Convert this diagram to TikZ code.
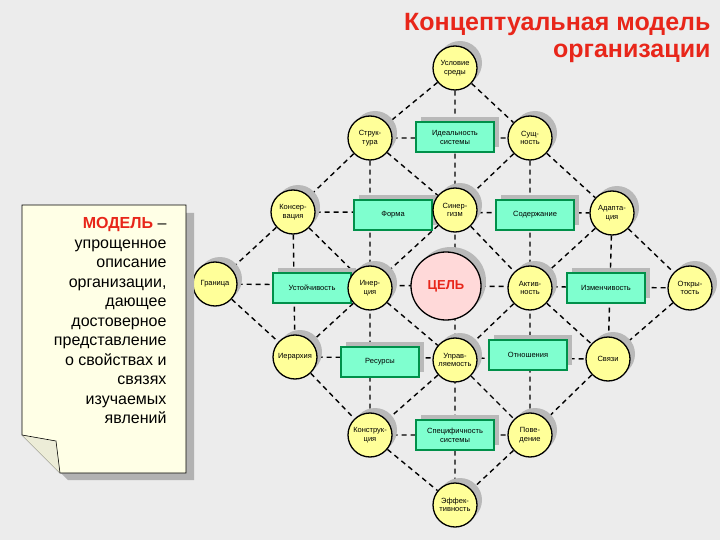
\documentclass[tikz,border=0pt]{standalone}
\usepackage{fontspec}
\setmainfont{Liberation Sans}
\usetikzlibrary{shadows,backgrounds,shapes.geometric}
\definecolor{bg}{HTML}{ECECEC}
\definecolor{cy}{HTML}{FFFF99}
\definecolor{mint}{HTML}{7FFFCF}
\definecolor{dg}{HTML}{00904A}
\definecolor{tr}{HTML}{E8261A}
\definecolor{note}{HTML}{FFFFE6}
\begin{document}
\begin{tikzpicture}[x=1pt,y=-1pt,
 sh/.style={drop shadow={shadow xshift=5pt,shadow yshift=5pt,fill=gray!55,opacity=1}},
 cn/.style={circle,draw=black,line width=1.3pt,fill=cy,minimum size=44pt,inner sep=0pt,align=center,font=\fontsize{7.5}{8.5}\selectfont,sh},
 bx/.style={rectangle,draw=dg,line width=1.8pt,fill=mint,minimum width=78pt,minimum height=30pt,inner sep=1pt,align=center,font=\fontsize{7.5}{9}\selectfont,sh},
 dl/.style={dashed,dash pattern=on 5pt off 4pt,line width=1.4pt}]
\useasboundingbox (0,0) rectangle (720,540);
% title
\node[anchor=east,text=tr,font=\fontsize{25}{27}\bfseries\selectfont,align=right] (title) at (714,38) {Концептуальная модель\\организации};
% nodes
\node[cn] (us) at (455,68) {Условие\\среды};
\node[cn] (str) at (370,138) {Струк-\\тура};
\node[bx] (id) at (455,137) {Идеальность\\системы};
\node[cn] (sus) at (530,138) {Сущ-\\ность};
\node[cn] (kon) at (293,212) {Консер-\\вация};
\node[bx] (form) at (393,215) {Форма};
\node[cn] (sin) at (455,210) {Синер-\\гизм};
\node[bx] (sod) at (535,215) {Содержание};
\node[cn] (ad) at (612,213) {Адапта-\\ция};
\node[cn] (gr) at (215,284) {Граница};
\node[bx] (ust) at (312,288) {Устойчивость};
\node[cn] (in) at (370,288) {Инер-\\ция};
\node[ellipse,draw=black,line width=1.3pt,fill=pink!60,minimum width=70pt,minimum height=68pt,sh,text=tr,font=\fontsize{13}{15}\bfseries\selectfont] (cel) at (446,286) {ЦЕЛЬ};
\node[cn] (akt) at (530,288) {Актив-\\ность};
\node[bx] (izm) at (606,288) {Изменчивость};
\node[cn] (otk) at (690,288) {Откры-\\тость};
\node[cn] (ier) at (295,357) {Иерархия};
\node[bx] (res) at (380,362) {Ресурсы};
\node[cn] (upr) at (455,360) {Управ-\\ляемость};
\node[bx] (otn) at (528,355) {Отношения};
\node[cn] (sv) at (608,359) {Связи};
\node[cn] (kns) at (370,435) {Конструк-\\ция};
\node[bx] (spc) at (455,435) {Специфичность\\системы};
\node[cn] (pov) at (530,435) {Пове-\\дение};
\node[cn] (ef) at (455,505) {Эффек-\\тивность};
% connectors
\begin{scope}[on background layer]
\fill[bg] (0,0) rectangle (720,540);
\draw[dl] (us)--(sus) (sus)--(ad) (ad)--(otk)
 (str)--(sin) (sin)--(akt) (akt)--(sv)
 (kon)--(in) (in)--(upr) (upr)--(pov)
 (gr)--(ier) (ier)--(kns) (kns)--(ef)
 (us)--(str) (str)--(kon) (kon)--(gr)
 (sus)--(sin) (sin)--(in) (in)--(ier)
 (ad)--(akt) (akt)--(upr) (upr)--(kns)
 (otk)--(sv) (sv)--(pov) (pov)--(ef)
 (str)--(sus) (kon)--(ad) (gr)--(otk) (ier)--(sv) (kns)--(pov)
 (us)--(ef) (str)--(kns) (sus)--(pov) (kon)--(ier) (ad)--(sv);
\end{scope}
% note
\fill[gray!60] (30,213) -- (194,213) -- (194,480) -- (68,480) -- (30,442) -- cycle;
\draw[fill=note,line width=0.6pt] (22,205) -- (186,205) -- (186,473) -- (60,473) -- (22,435) -- cycle;
\draw[fill=note!85!gray,line width=0.6pt] (22,435) -- (56,441) -- (60,473);
\node[anchor=north east,align=right,font=\fontsize{16}{19.5}\selectfont] (nt) at (170,214)
 {\textcolor{tr}{\bfseries МОДЕЛЬ} –\\упрощенное\\описание\\организации,\\дающее\\достоверное\\представление\\о свойствах и\\связях\\изучаемых\\явлений};
\end{tikzpicture}
\end{document}
